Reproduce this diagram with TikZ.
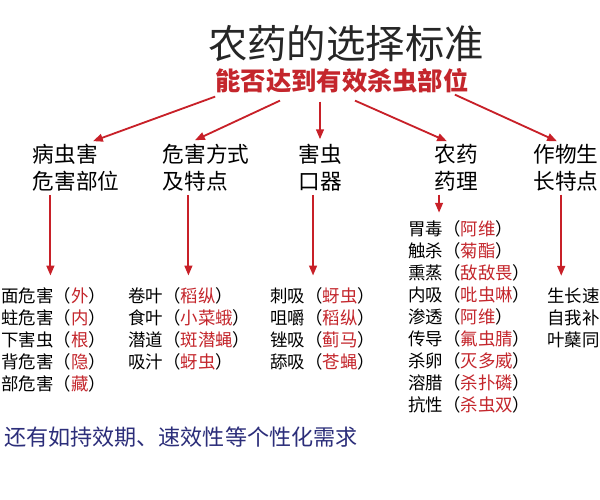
\documentclass[tikz,border=0pt]{standalone}
\usepackage{fontspec}
\setmainfont{Noto Sans CJK SC}
\usepackage{xcolor}
\usepackage{tikz}
\usetikzlibrary{arrows.meta, positioning, calc}

\definecolor{linered}{RGB}{200,32,40}
\definecolor{textred}{RGB}{196,38,44}
\definecolor{noteblue}{RGB}{44,46,122}
\newcommand{\rd}[1]{\textcolor{textred}{#1}}

\begin{document}
\begin{tikzpicture}[
    x=0.025cm, y=-0.025cm,
    title/.style={inner sep=0pt, text=black!85, font=\fontsize{28pt}{30pt}\selectfont},
    goal/.style={inner sep=0pt, text=textred, font=\bfseries\fontsize{18pt}{20pt}\selectfont},
    head/.style={inner sep=0pt, align=left, font=\fontsize{15.4pt}{19.2pt}\selectfont},
    item/.style={inner sep=0pt, align=left, anchor=west, font=\fontsize{12.4pt}{15.6pt}\selectfont},
    note/.style={inner sep=0pt, anchor=west, text=noteblue, font=\fontsize{15.7pt}{18pt}\selectfont},
    arrow/.style={-{Triangle[length=7pt,width=5.5pt]}, line width=1.3pt, color=linered},
]
\useasboundingbox (0,0) rectangle (600,500);
\fill[white] (0,0) rectangle (600,500);

\node[title] (title) at (346,43) {农药的选择标准};
\node[goal] (sub) at (342,81) {能否达到有效杀虫部位};

% second row
\node[head] (hurt) at (76,168) {病虫害\\危害部位};
\node[head] (mode) at (206,168) {危害方式\\及特点};
\node[head] (mouth) at (320,168) {害虫\\口器};
\node[head] (drug) at (456,168) {农药\\药理};
\node[head] (crop) at (566,168) {作物生\\长特点};

% lists
\node[item] (where) at (1,340) {面危害（\rd{外}）\\蛀危害（\rd{内}）\\下害虫（\rd{根}）\\背危害（\rd{隐}）\\部危害（\rd{藏}）};
\node[item] (way) at (128,329) {卷叶（\rd{稻纵}）\\食叶（\rd{小菜蛾}）\\潜道（\rd{斑潜蝇}）\\吸汁（\rd{蚜虫}）};
\node[item] (suck) at (270,329) {刺吸（\rd{蚜虫}）\\咀嚼（\rd{稻纵}）\\锉吸（\rd{蓟马}）\\舔吸（\rd{苍蝇}）};
\node[item] (mech) at (408,317) {胃毒（\rd{阿维}）\\触杀（\rd{菊酯}）\\熏蒸（\rd{敌敌畏}）\\内吸（\rd{吡虫啉}）\\渗透（\rd{阿维}）\\传导（\rd{氟虫腈}）\\杀卵（\rd{灭多威}）\\溶腊（\rd{杀扑磷}）\\抗性（\rd{杀虫双}）};
\node[item] (grow) at (547,318) {生长速\\自我补\\叶蘖同};

\node[note] (more) at (4,437) {还有如持效期、速效性等个性化需求};

% arrows
\draw[arrow] ($(sub.south west)+(0,3)$) -- ($(hurt.north)+(17,-3)$);
\draw[arrow] ($(sub.south)+(-62,7)$) -- ($(mode.north)+(-11,-4)$);
\draw[arrow] ($(sub.south)+(-22,8)$) -- ($(mouth.north)+(0,-5)$);
\draw[arrow] ($(sub.south)+(13,7)$) -- ($(drug.north)+(-9,-3)$);
\draw[arrow] ($(sub.south east)+(-14,1)$) -- ($(crop.north)+(-9,-3)$);

\draw[arrow] ($(hurt.south west)+(18,3)$) -- ($(hurt.south west |- where.north)+(18,-12)$);
\draw[arrow] ($(mode.south west)+(26,3)$) -- ($(mode.south west |- way.north)+(26,-12)$);
\draw[arrow] ($(mouth.south west)+(15,3)$) -- ($(mouth.south west |- suck.north)+(15,-12)$);
\draw[arrow] ($(drug.south west)+(5,3)$) -- ($(drug.south west |- mech.north)+(5,-8)$);
\draw[arrow] ($(crop.south west)+(28,3)$) -- ($(crop.south west |- grow.north)+(28,-12)$);
\end{tikzpicture}
\end{document}
